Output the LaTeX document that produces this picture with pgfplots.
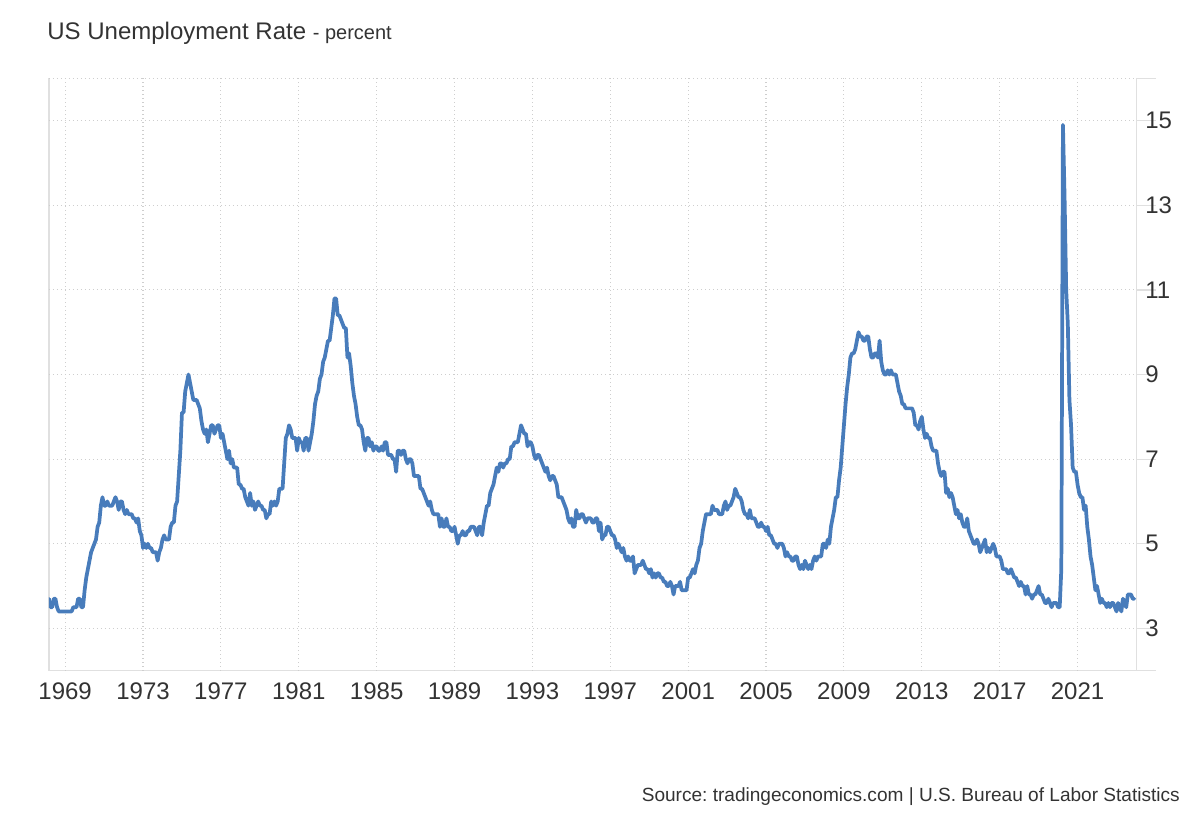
\documentclass[border=0pt]{standalone}
\usepackage{pgfplots}
\pgfplotsset{compat=1.18}
\usepackage{fontspec}
\setmainfont{Liberation Sans}
\frenchspacing
\definecolor{linecol}{RGB}{72,124,187}
\definecolor{gridcol}{RGB}{206,206,206}
\definecolor{axcol}{RGB}{224,224,224}
\definecolor{txt}{RGB}{51,51,51}
\begin{document}
\begin{tikzpicture}
\useasboundingbox (-36.75pt,-112pt) rectangle (863.25pt,503pt);
% frame (axis lines and right-hand tick marks)
\draw[axcol, line width=0.9pt] (0,444.2pt) -- (0,0) -- (830.05pt,0);
\draw[axcol, line width=0.9pt] (815.8pt,0) -- (815.8pt,444.2pt);
\foreach \v in {3,5,7,9,11,13,15,16}{
  \draw[axcol, line width=0.9pt] (815.8pt,{(\v-2)*31.7286pt}) -- ++(14.25pt,0);
}
\begin{axis}[
  scale only axis,
  width=815.8pt, height=444.2pt,
  at={(0,0)}, anchor=south west,
  xmin=1968.17, xmax=2024.04,
  ymin=2, ymax=16,
  axis line style={draw=none},
  xtick={1969,1973,1977,1981,1985,1989,1993,1997,2001,2005,2009,2013,2017,2021},
  xticklabels={1969,1973,1977,1981,1985,1989,1993,1997,2001,2005,2009,2013,2017,2021},
  ytick={3,5,7,9,11,13,15},
  yticklabels={3,5,7,9,11,13,15},
  extra y ticks={16},
  extra y tick labels={},
  extra y tick style={grid=major},
  major tick length=0pt,
  tick style={draw=none},
  yticklabel pos=right,
  grid=major,
  major grid style={gridcol, line width=0.85pt, dash pattern=on 0.85pt off 2.15pt},
  ticklabel style={font=\fontsize{18}{21}\selectfont, text=txt, inner sep=0pt},
  xticklabel style={anchor=north, yshift=-8.5pt},
  yticklabel style={anchor=west, xshift=6.2pt},
]
\addplot[linecol, line width=2.8pt, line join=round, line cap=round]
  table[row sep=\\, header=false, x expr={1968+(\coordindex+2)/12}, y index=0] {
3.7\\ 3.5\\ 3.5\\ 3.7\\ 3.7\\ 3.5\\ 3.4\\ 3.4\\ 3.4\\ 3.4\\
3.4\\ 3.4\\ 3.4\\ 3.4\\ 3.4\\ 3.5\\ 3.5\\ 3.5\\ 3.7\\ 3.7\\ 3.5\\ 3.5\\
3.9\\ 4.2\\ 4.4\\ 4.6\\ 4.8\\ 4.9\\ 5.0\\ 5.1\\ 5.4\\ 5.5\\ 5.9\\ 6.1\\
5.9\\ 5.9\\ 6.0\\ 5.9\\ 5.9\\ 5.9\\ 6.0\\ 6.1\\ 6.0\\ 5.8\\ 6.0\\ 6.0\\
5.8\\ 5.7\\ 5.8\\ 5.7\\ 5.7\\ 5.7\\ 5.6\\ 5.6\\ 5.5\\ 5.6\\ 5.3\\ 5.2\\
4.9\\ 5.0\\ 4.9\\ 5.0\\ 4.9\\ 4.9\\ 4.8\\ 4.8\\ 4.8\\ 4.6\\ 4.8\\ 4.9\\
5.1\\ 5.2\\ 5.1\\ 5.1\\ 5.1\\ 5.4\\ 5.5\\ 5.5\\ 5.9\\ 6.0\\ 6.6\\ 7.2\\
8.1\\ 8.1\\ 8.6\\ 8.8\\ 9.0\\ 8.8\\ 8.6\\ 8.4\\ 8.4\\ 8.4\\ 8.3\\ 8.2\\
7.9\\ 7.7\\ 7.6\\ 7.7\\ 7.4\\ 7.6\\ 7.8\\ 7.8\\ 7.6\\ 7.7\\ 7.8\\ 7.8\\
7.5\\ 7.6\\ 7.4\\ 7.2\\ 7.0\\ 7.2\\ 6.9\\ 7.0\\ 6.8\\ 6.8\\ 6.8\\ 6.4\\
6.4\\ 6.3\\ 6.3\\ 6.1\\ 6.0\\ 5.9\\ 6.2\\ 5.9\\ 6.0\\ 5.8\\ 5.9\\ 6.0\\
5.9\\ 5.9\\ 5.8\\ 5.8\\ 5.6\\ 5.7\\ 5.7\\ 6.0\\ 5.9\\ 6.0\\ 5.9\\ 6.0\\
6.3\\ 6.3\\ 6.3\\ 6.9\\ 7.5\\ 7.6\\ 7.8\\ 7.7\\ 7.5\\ 7.5\\ 7.5\\ 7.2\\
7.5\\ 7.4\\ 7.4\\ 7.2\\ 7.5\\ 7.5\\ 7.2\\ 7.4\\ 7.6\\ 7.9\\ 8.3\\ 8.5\\
8.6\\ 8.9\\ 9.0\\ 9.3\\ 9.4\\ 9.6\\ 9.8\\ 9.8\\ 10.1\\ 10.4\\ 10.8\\ 10.8\\
10.4\\ 10.4\\ 10.3\\ 10.2\\ 10.1\\ 10.1\\ 9.4\\ 9.5\\ 9.2\\ 8.8\\ 8.5\\ 8.3\\
8.0\\ 7.8\\ 7.8\\ 7.7\\ 7.4\\ 7.2\\ 7.5\\ 7.5\\ 7.3\\ 7.4\\ 7.2\\ 7.3\\
7.3\\ 7.2\\ 7.2\\ 7.3\\ 7.2\\ 7.4\\ 7.4\\ 7.1\\ 7.1\\ 7.1\\ 7.0\\ 7.0\\
6.7\\ 7.2\\ 7.2\\ 7.1\\ 7.2\\ 7.2\\ 7.0\\ 6.9\\ 7.0\\ 7.0\\ 6.9\\ 6.6\\
6.6\\ 6.6\\ 6.6\\ 6.3\\ 6.3\\ 6.2\\ 6.1\\ 6.0\\ 5.9\\ 6.0\\ 5.8\\ 5.7\\
5.7\\ 5.7\\ 5.7\\ 5.4\\ 5.6\\ 5.4\\ 5.4\\ 5.6\\ 5.4\\ 5.4\\ 5.3\\ 5.3\\
5.4\\ 5.2\\ 5.0\\ 5.2\\ 5.2\\ 5.3\\ 5.2\\ 5.2\\ 5.3\\ 5.3\\ 5.4\\ 5.4\\
5.4\\ 5.3\\ 5.2\\ 5.4\\ 5.4\\ 5.2\\ 5.5\\ 5.7\\ 5.9\\ 5.9\\ 6.2\\ 6.3\\
6.4\\ 6.6\\ 6.8\\ 6.7\\ 6.9\\ 6.9\\ 6.8\\ 6.9\\ 6.9\\ 7.0\\ 7.0\\ 7.3\\
7.3\\ 7.4\\ 7.4\\ 7.4\\ 7.6\\ 7.8\\ 7.7\\ 7.6\\ 7.6\\ 7.3\\ 7.4\\ 7.4\\
7.3\\ 7.1\\ 7.0\\ 7.1\\ 7.1\\ 7.0\\ 6.9\\ 6.8\\ 6.7\\ 6.8\\ 6.6\\ 6.5\\
6.6\\ 6.6\\ 6.5\\ 6.4\\ 6.1\\ 6.1\\ 6.1\\ 6.0\\ 5.9\\ 5.8\\ 5.6\\ 5.5\\
5.6\\ 5.4\\ 5.4\\ 5.8\\ 5.6\\ 5.6\\ 5.7\\ 5.7\\ 5.6\\ 5.5\\ 5.6\\ 5.6\\
5.6\\ 5.5\\ 5.5\\ 5.6\\ 5.6\\ 5.3\\ 5.5\\ 5.1\\ 5.2\\ 5.2\\ 5.4\\ 5.4\\
5.3\\ 5.2\\ 5.2\\ 5.1\\ 4.9\\ 5.0\\ 4.9\\ 4.8\\ 4.9\\ 4.7\\ 4.6\\ 4.7\\
4.6\\ 4.6\\ 4.7\\ 4.3\\ 4.4\\ 4.5\\ 4.5\\ 4.5\\ 4.6\\ 4.5\\ 4.4\\ 4.4\\
4.3\\ 4.4\\ 4.2\\ 4.3\\ 4.2\\ 4.3\\ 4.3\\ 4.2\\ 4.2\\ 4.1\\ 4.1\\ 4.0\\
4.0\\ 4.1\\ 4.0\\ 3.8\\ 4.0\\ 4.0\\ 4.0\\ 4.1\\ 3.9\\ 3.9\\ 3.9\\ 3.9\\
4.2\\ 4.2\\ 4.3\\ 4.4\\ 4.3\\ 4.5\\ 4.6\\ 4.9\\ 5.0\\ 5.3\\ 5.5\\ 5.7\\
5.7\\ 5.7\\ 5.7\\ 5.9\\ 5.8\\ 5.8\\ 5.8\\ 5.7\\ 5.7\\ 5.7\\ 5.9\\ 6.0\\
5.8\\ 5.9\\ 5.9\\ 6.0\\ 6.1\\ 6.3\\ 6.2\\ 6.1\\ 6.1\\ 6.0\\ 5.8\\ 5.7\\
5.7\\ 5.6\\ 5.8\\ 5.6\\ 5.6\\ 5.6\\ 5.5\\ 5.4\\ 5.4\\ 5.5\\ 5.4\\ 5.4\\
5.3\\ 5.4\\ 5.2\\ 5.2\\ 5.1\\ 5.0\\ 5.0\\ 4.9\\ 5.0\\ 5.0\\ 5.0\\ 4.9\\
4.7\\ 4.8\\ 4.7\\ 4.7\\ 4.6\\ 4.6\\ 4.7\\ 4.7\\ 4.5\\ 4.4\\ 4.5\\ 4.4\\
4.6\\ 4.5\\ 4.4\\ 4.5\\ 4.4\\ 4.6\\ 4.7\\ 4.6\\ 4.7\\ 4.7\\ 4.7\\ 5.0\\
5.0\\ 4.9\\ 5.1\\ 5.0\\ 5.4\\ 5.6\\ 5.8\\ 6.1\\ 6.1\\ 6.5\\ 6.8\\ 7.3\\
7.8\\ 8.3\\ 8.7\\ 9.0\\ 9.4\\ 9.5\\ 9.5\\ 9.6\\ 9.8\\ 10.0\\ 9.9\\ 9.9\\
9.8\\ 9.8\\ 9.9\\ 9.9\\ 9.6\\ 9.4\\ 9.4\\ 9.5\\ 9.5\\ 9.4\\ 9.8\\ 9.3\\
9.1\\ 9.0\\ 9.0\\ 9.1\\ 9.0\\ 9.1\\ 9.0\\ 9.0\\ 9.0\\ 8.8\\ 8.6\\ 8.5\\
8.3\\ 8.3\\ 8.2\\ 8.2\\ 8.2\\ 8.2\\ 8.2\\ 8.1\\ 7.8\\ 7.8\\ 7.7\\ 7.9\\
8.0\\ 7.7\\ 7.5\\ 7.6\\ 7.5\\ 7.5\\ 7.3\\ 7.2\\ 7.2\\ 7.2\\ 6.9\\ 6.7\\
6.6\\ 6.7\\ 6.7\\ 6.2\\ 6.3\\ 6.1\\ 6.2\\ 6.1\\ 5.9\\ 5.7\\ 5.8\\ 5.6\\
5.7\\ 5.5\\ 5.4\\ 5.4\\ 5.6\\ 5.3\\ 5.2\\ 5.1\\ 5.0\\ 5.0\\ 5.1\\ 5.0\\
4.8\\ 4.9\\ 5.0\\ 5.1\\ 4.8\\ 4.9\\ 4.8\\ 4.9\\ 5.0\\ 4.9\\ 4.7\\ 4.7\\
4.7\\ 4.6\\ 4.4\\ 4.4\\ 4.4\\ 4.3\\ 4.3\\ 4.4\\ 4.3\\ 4.2\\ 4.2\\ 4.1\\
4.0\\ 4.1\\ 4.0\\ 4.0\\ 3.8\\ 4.0\\ 3.8\\ 3.8\\ 3.7\\ 3.8\\ 3.8\\ 3.9\\
4.0\\ 3.8\\ 3.8\\ 3.7\\ 3.6\\ 3.6\\ 3.7\\ 3.6\\ 3.5\\ 3.6\\ 3.6\\ 3.6\\
3.5\\ 3.5\\ 4.4\\ 14.9\\ 13.2\\ 11.0\\ 10.2\\ 8.4\\ 7.8\\ 6.8\\ 6.7\\ 6.7\\
6.4\\ 6.2\\ 6.1\\ 6.1\\ 5.8\\ 5.9\\ 5.4\\ 5.1\\ 4.7\\ 4.5\\ 4.2\\ 3.9\\
4.0\\ 3.8\\ 3.6\\ 3.7\\ 3.6\\ 3.6\\ 3.5\\ 3.6\\ 3.5\\ 3.6\\ 3.6\\ 3.5\\
3.4\\ 3.6\\ 3.5\\ 3.4\\ 3.7\\ 3.6\\ 3.5\\ 3.8\\ 3.8\\ 3.8\\ 3.7\\ 3.7\\
};
\end{axis}
\node[anchor=base west, inner sep=0pt, text=txt, font=\fontsize{18}{21}\selectfont] at (-1.4pt,473pt)
  {US Unemployment Rate {\fontsize{15}{18}\selectfont - percent}};
\node[anchor=base east, inner sep=0pt, text=txt, font=\fontsize{14.3}{17}\selectfont] at (848.3pt,-98.5pt)
  {Source: tradingeconomics.com | U.S. Bureau of Labor Statistics};
\end{tikzpicture}
\end{document}
